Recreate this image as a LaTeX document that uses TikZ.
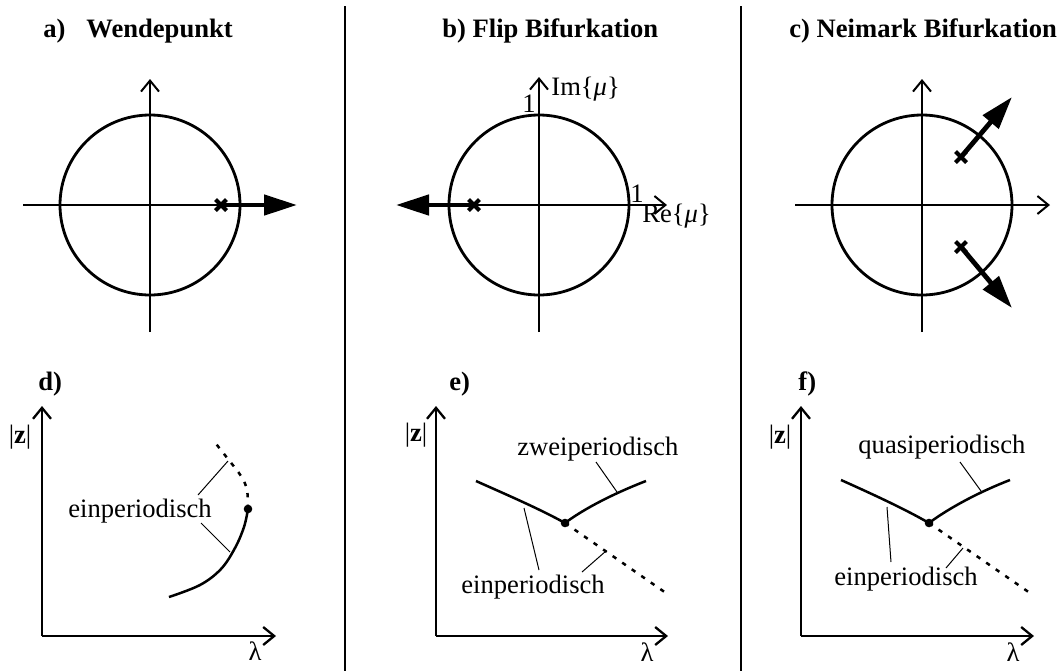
\documentclass[tikz,border=0pt]{standalone}
\usepackage{fontspec}
\setmainfont{Liberation Serif}
\usetikzlibrary{arrows.meta}
\tikzset{
  axisA/.style={line width=1pt,-{Straight Barb[length=5.5pt,width=9pt]}},
  axisB/.style={line width=1.15pt,-{Straight Barb[length=5.5pt,width=9pt]}},
  plainaxis/.style={line width=1pt},
  circ/.style={line width=1.4pt},
  bigarrow/.style={line width=2.4pt,-{Triangle[length=16.5pt,width=10pt]}},
  crossline/.style={line width=2pt},
  leader/.style={line width=0.5pt},
  curve/.style={line width=1.25pt},
  dashcurve/.style={line width=1.25pt,dash pattern=on 2.2pt off 3.6pt},
  sep/.style={line width=1.3pt},
  lbl/.style={font=\fontsize{13.3}{15}\selectfont,inner sep=0pt},
  ttl/.style={font=\fontsize{13.3}{15}\selectfont\bfseries,inner sep=0pt},
  dotmark/.style={fill=black,circle,inner sep=0pt,minimum size=4.3pt}
}
\begin{document}
\begin{tikzpicture}[x=0.5pt,y=-0.5pt]
\useasboundingbox (0,0) rectangle (1062,671);
% separators
\coordinate (s1t) at (345,6); \coordinate (s1b) at (345,671);
\coordinate (s2t) at (741,6); \coordinate (s2b) at (741,671);
\draw[sep] (s1t) -- (s1b);
\draw[sep] (s2t) -- (s2b);

% titles
\node[ttl,anchor=base west] (ta1) at (43,37) {a)};
\node[ttl,anchor=base west] (ta2) at (86,37) {Wendepunkt};
\node[ttl,anchor=base west] (tb) at (442,37) {b) Flip Bifurkation};
\node[ttl,anchor=base west] (tc) at (789,37) {c) Neimark Bifurkation};

% ---------- panel a
\coordinate (aC) at (150,205);
\coordinate (aL) at (23,205); \coordinate (aR) at (290,205);
\coordinate (aB) at (150,332); \coordinate (aT) at (150,79);
\draw[plainaxis] (aL) -- (aR);
\draw[axisA] (aB) -- (aT);
\draw[circ] (aC) circle[radius=90];
\coordinate (aX) at (221,205); \coordinate (aTip) at (297,205);
\draw[bigarrow] (aX) -- (aTip);
\draw[crossline] (aX) ++(-5.5,-5.5) -- ++(11,11) (aX) ++(-5.5,5.5) -- ++(11,-11);

% ---------- panel b
\coordinate (bC) at (539,205);
\coordinate (bL) at (402,205); \coordinate (bR) at (667,205);
\coordinate (bB) at (539,332); \coordinate (bT) at (539,77);
\draw[axisA] (bL) -- (bR);
\draw[axisA] (bB) -- (bT);
\draw[circ] (bC) circle[radius=90];
\coordinate (bX) at (474,205); \coordinate (bTip) at (396,205);
\draw[bigarrow] (bX) -- (bTip);
\draw[crossline] (bX) ++(-5.5,-5.5) -- ++(11,11) (bX) ++(-5.5,5.5) -- ++(11,-11);
\node[lbl,anchor=base west] (bIm) at (551,95) {Im\{\textit{μ}\}};
\node[lbl,anchor=base west] (bRe) at (642,222) {Re\{\textit{μ}\}};
\node[lbl] (bOne1) at (529,104) {1};
\node[lbl] (bOne2) at (637,194) {1};

% ---------- panel c
\coordinate (cC) at (922,205);
\coordinate (cL) at (795,205); \coordinate (cR) at (1050,205);
\coordinate (cB) at (922,332); \coordinate (cT) at (922,79);
\draw[axisA] (cL) -- (cR);
\draw[axisA] (cB) -- (cT);
\draw[circ] (cC) circle[radius=90];
\coordinate (cX1) at (961,157); \coordinate (cTip1) at (1012,97);
\coordinate (cX2) at (961,247); \coordinate (cTip2) at (1012,308);
\draw[bigarrow] (cX1) -- (cTip1);
\draw[bigarrow] (cX2) -- (cTip2);
\draw[crossline] (cX1) ++(-5.5,-5.5) -- ++(11,11) (cX1) ++(-5.5,5.5) -- ++(11,-11);
\draw[crossline] (cX2) ++(-5.5,-5.5) -- ++(11,11) (cX2) ++(-5.5,5.5) -- ++(11,-11);

% ---------- panel d
\coordinate (dO) at (42,636); \coordinate (dY) at (42,406); \coordinate (dXe) at (276,636);
\draw[axisB] (dO) -- (dY);
\draw[axisB] (dO) -- (dXe);
\node[ttl,anchor=base west] (dlab) at (38,390) {d)};
\node[lbl] (dz) at (20,437) {|\textbf{z}|};
\node[lbl] (dlam) at (255,651) {λ};
\node[dotmark] (dD) at (248,509) {};
\draw[curve] plot[smooth,tension=0.6] coordinates {(169,597) (200,585) (221,569) (235,548) (244,527) (248,509)};
\draw[dashcurve] plot[smooth,tension=0.6] coordinates {(248,509) (247,490) (241,476) (228,459) (213,440)};
\node[lbl,anchor=base west] (dein) at (68,517) {einperiodisch};
\coordinate (dl1a) at (198,495); \coordinate (dl1b) at (228,461);
\coordinate (dl2a) at (201,523); \coordinate (dl2b) at (230,552);
\draw[leader] (dl1a) -- (dl1b);
\draw[leader] (dl2a) -- (dl2b);

% ---------- panel e
\coordinate (eO) at (436,636); \coordinate (eY) at (436,406); \coordinate (eXe) at (668,636);
\draw[axisB] (eO) -- (eY);
\draw[axisB] (eO) -- (eXe);
\node[ttl,anchor=base west] (elab) at (449,390) {e)};
\node[lbl] (ez) at (416,435) {|\textbf{z}|};
\node[lbl] (elam) at (647,652) {λ};
\node[dotmark] (eD) at (565,523) {};
\coordinate (eS1) at (476,481); \coordinate (eS2) at (646,481); \coordinate (eS3) at (666,593);
\draw[curve] (eS1) .. controls (505,494) and (540,509) .. (eD.center);
\draw[curve] (eD.center) .. controls (585,508) and (615,493) .. (eS2);
\draw[dashcurve] (eD.center) -- (eS3);
\node[lbl,anchor=base west] (ezwei) at (517,455) {zweiperiodisch};
\node[lbl,anchor=base west] (eein) at (461,593) {einperiodisch};
\coordinate (el1a) at (596,462); \coordinate (el1b) at (617,492);
\coordinate (el2a) at (524,508); \coordinate (el2b) at (539,570);
\coordinate (el3a) at (606,551); \coordinate (el3b) at (582,572);
\draw[leader] (el1a) -- (el1b);
\draw[leader] (el2a) -- (el2b);
\draw[leader] (el3a) -- (el3b);

% ---------- panel f
\coordinate (fO) at (801,636); \coordinate (fY) at (801,406); \coordinate (fXe) at (1034,636);
\draw[axisB] (fO) -- (fY);
\draw[axisB] (fO) -- (fXe);
\node[ttl,anchor=base west] (flab) at (798,390) {f)};
\node[lbl] (fz) at (780,437) {|\textbf{z}|};
\node[lbl] (flam) at (1013,652) {λ};
\node[dotmark] (fD) at (929,523) {};
\coordinate (fS1) at (841,480); \coordinate (fS2) at (1010,480); \coordinate (fS3) at (1030,593);
\draw[curve] (fS1) .. controls (870,493) and (905,509) .. (fD.center);
\draw[curve] (fD.center) .. controls (949,508) and (979,492) .. (fS2);
\draw[dashcurve] (fD.center) -- (fS3);
\node[lbl,anchor=base west] (fquasi) at (858,453) {quasiperiodisch};
\node[lbl,anchor=base west] (fein) at (834,585) {einperiodisch};
\coordinate (fl1a) at (960,462); \coordinate (fl1b) at (981,491);
\coordinate (fl2a) at (887,507); \coordinate (fl2b) at (891,562);
\coordinate (fl3a) at (963,548); \coordinate (fl3b) at (946,568);
\draw[leader] (fl1a) -- (fl1b);
\draw[leader] (fl2a) -- (fl2b);
\draw[leader] (fl3a) -- (fl3b);
\end{tikzpicture}
\end{document}
